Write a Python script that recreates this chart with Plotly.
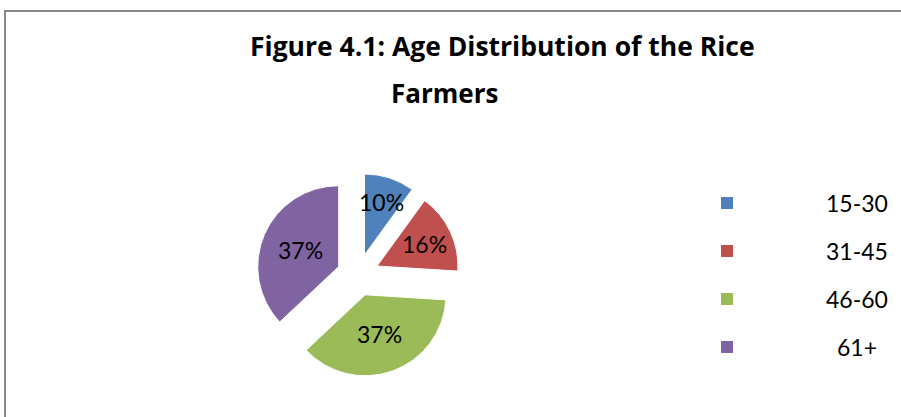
import math
import plotly.graph_objects as go

# Age groups of the surveyed rice farmers and their share (%)
age_groups = ["15-30", "31-45", "46-60", "61+"]
shares = [10, 16, 37, 37]
colors = ["#4F81BD", "#C0504D", "#9BBB59", "#8064A2"]

W, H = 901, 417
PULL = 0.26
FONT = "Lato"
TITLE_FONT = "Open Sans"

# Pie box in paper coordinates
dom_x = [256 / W, 460 / W]
dom_y = [40 / H, 244 / H]

fig = go.Figure(
    go.Pie(
        labels=age_groups,
        values=shares,
        marker=dict(colors=colors, line=dict(color="white", width=1)),
        pull=[PULL] * len(shares),
        sort=False,
        direction="clockwise",
        rotation=0,
        textinfo="none",
        hoverinfo="label+percent",
        domain=dict(x=dom_x, y=dom_y),
        showlegend=False,
    )
)

# Percentage labels placed inside each exploded slice
cx = (dom_x[0] + dom_x[1]) / 2 * W
cy = (1 - (dom_y[0] + dom_y[1]) / 2) * H
radius = min((dom_x[1] - dom_x[0]) * W, (dom_y[1] - dom_y[0]) * H) / 2 / (1 + PULL)
total = sum(shares)
start = 0.0
annotations = []
for share in shares:
    frac = share / total
    mid = (start + frac / 2) * 2 * math.pi
    start += frac
    dist = radius * PULL + radius * (0.75 - 0.65 * frac)
    px = cx + dist * math.sin(mid)
    py = cy - dist * math.cos(mid)
    annotations.append(dict(
        x=px / W, y=1 - py / H, xref="paper", yref="paper",
        text=f"{share}%", showarrow=False,
        font=dict(family=FONT, size=23, color="black"),
        xanchor="center", yanchor="middle",
    ))

# Legend: coloured squares with centred labels
shapes = []
for i, (grp, col) in enumerate(zip(age_groups, colors)):
    yc = 203 + i * 48
    shapes.append(dict(
        type="rect", xref="paper", yref="paper",
        x0=721 / W, x1=733 / W, y0=1 - (yc + 6) / H, y1=1 - (yc - 6) / H,
        fillcolor=col, line=dict(width=0),
    ))
    annotations.append(dict(
        x=857 / W, y=1 - yc / H, xref="paper", yref="paper",
        text=grp, showarrow=False,
        font=dict(family=FONT, size=23, color="black"),
        xanchor="center", yanchor="middle",
    ))

# Two-line chart title
annotations.append(dict(
    x=502 / W, y=1 - 46 / H, xref="paper", yref="paper",
    text="<b>Figure 4.1: Age Distribution of the Rice</b>", showarrow=False,
    font=dict(family=TITLE_FONT, size=26.5, color="black"),
    xanchor="center", yanchor="middle",
))
annotations.append(dict(
    x=444 / W, y=1 - 93 / H, xref="paper", yref="paper",
    text="<b>Farmers</b>", showarrow=False,
    font=dict(family=TITLE_FONT, size=26, color="black"),
    xanchor="center", yanchor="middle",
))

# Chart frame
shapes.append(dict(
    type="rect", xref="paper", yref="paper",
    x0=5 / W, x1=1.05, y0=-0.05, y1=1 - 11 / H,
    line=dict(color="#878787", width=2), fillcolor="rgba(0,0,0,0)",
))

fig.update_layout(
    width=W, height=H,
    margin=dict(l=0, r=0, t=0, b=0),
    paper_bgcolor="white", plot_bgcolor="white",
    annotations=annotations, shapes=shapes,
)

fig.write_html("out.html")
